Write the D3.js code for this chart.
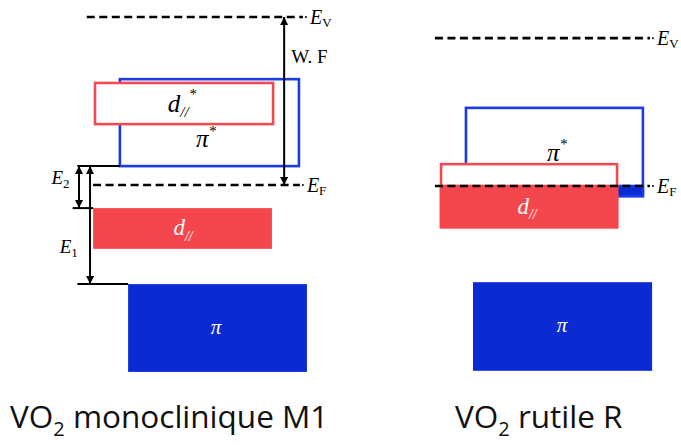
<!DOCTYPE html>
<html><head><meta charset="utf-8">
<script src="https://cdn.jsdelivr.net/npm/d3@7"></script>
<style>body{margin:0;background:#fff}svg{display:block}</style>
</head><body><svg id="c" width="681" height="445"></svg>
<script>
// ---------- DATA (energies in arbitrary units, E_F = 0; widths in DOS units 0..10) ----------
const panelTitles = [["VO", "2", " monoclinique M1"], ["VO", "2", " rutile R"]];

// Monoclinic M1
const levelsM1 = [4.0, 0.0];              // E_V, E_F
const levelFromM1 = [0.5, 0.77];
const levelToM1 = [9.7, 9.57];
const bandNamesM1 = ["pi*", "d*", "d", "pi"];
const bandTopM1 = [2.52, 2.43, -0.55, -2.36];
const bandBottomM1 = [0.45, 1.45, -1.52, -4.45];
const bandFromM1 = [1.91, 0.85, 0.77, 2.26];
const bandToM1 = [9.53, 8.43, 8.38, 9.87];
const gapNames = ["E2", "E1"];
const gapTop = [0.45, 0.45];
const gapBottom = [-0.55, -2.36];

// Rutile R
const levelsR = [3.52, 0.0];
const levelFromR = [0.21, 0.21];
const levelToR = [9.36, 9.36];
const bandNamesR = ["pi*", "d", "pi"];
const bandTopR = [1.86, 0.52, -2.29];
const bandBottomR = [-0.24, -0.98, -4.40];
const bandFromR = [1.53, 0.47, 1.83];
const bandToR = [9.06, 7.96, 9.45];

// ---------- DRAWING ----------
const svg = d3.select("#c");
const BLUE = "#0a2ad2", BLUE_S = "#1a3ae6", RED = "#f4474d", RED_S = "#f04a55";
const serif = "'Liberation Serif','DejaVu Serif',serif";

const xM1 = d3.scaleLinear().domain([0, 10]).range([75, 310]);
const yM1 = d3.scaleLinear().domain([0, 4]).range([185, 17]);
const xR = d3.scaleLinear().domain([0, 10]).range([430, 665]);
const yR = d3.scaleLinear().domain([0, 4]).range([186, 18]);

const defs = svg.append("defs");
defs.append("marker").attr("id", "ah").attr("viewBox", "0 0 10 10")
  .attr("refX", 10).attr("refY", 5).attr("markerWidth", 4.5).attr("markerHeight", 4)
  .attr("markerUnits", "strokeWidth").attr("orient", "auto-start-reverse")
  .append("path").attr("d", "M0,0 L10,5 L0,10 Z").attr("fill", "#000");

function rect(g, x0, x1, y0, y1, fill, stroke, sw) {
  g.append("rect").attr("x", x0).attr("y", y0).attr("width", x1 - x0).attr("height", y1 - y0)
    .attr("fill", fill).attr("stroke", stroke || "none").attr("stroke-width", sw || 0);
}
function dashed(g, x0, x1, y) {
  g.append("line").attr("x1", x0).attr("x2", x1).attr("y1", y).attr("y2", y)
    .attr("stroke", "#000").attr("stroke-width", 2.6).attr("stroke-dasharray", "8,4.5");
}
function levelLabel(g, x, y, sub) {
  g.append("circle").attr("cx", x + 3).attr("cy", y).attr("r", 1).attr("fill", "#000");
  const t = g.append("text").attr("x", x + 7).attr("y", y + 7).attr("font-family", serif)
    .attr("font-style", "italic").attr("font-size", 20).attr("fill", "#000");
  t.append("tspan").text("E");
  t.append("tspan").attr("font-size", 13).attr("font-style", "normal").attr("dy", 3).text(sub);
}
function hline(g, x0, x1, y) {
  g.append("line").attr("x1", x0).attr("x2", x1).attr("y1", y).attr("y2", y)
    .attr("stroke", "#000").attr("stroke-width", 2);
}
function arrow(g, x, y0, y1) {
  g.append("line").attr("x1", x).attr("x2", x).attr("y1", y0).attr("y2", y1)
    .attr("stroke", "#000").attr("stroke-width", 2)
    .attr("marker-start", "url(#ah)").attr("marker-end", "url(#ah)");
}
function bandLabel(g, x, y, main, sub, sup, color, size) {
  const t = g.append("text").attr("x", x).attr("y", y).attr("text-anchor", "middle")
    .attr("font-family", serif).attr("font-style", "italic").attr("font-size", size).attr("fill", color);
  t.append("tspan").text(main);
  if (sub) t.append("tspan").attr("font-size", size * 0.6).attr("dy", size * 0.22).text(sub);
  if (sup) t.append("tspan").attr("font-size", size * 0.6).attr("dy", sub ? -size * 0.72 : -size * 0.45).text(sup);
}

// ----- Monoclinic panel -----
const gL = svg.append("g");
const iL = n => bandNamesM1.indexOf(n);
let k = iL("pi*");
rect(gL, xM1(bandFromM1[k]), xM1(bandToM1[k]), yM1(bandTopM1[k]), yM1(bandBottomM1[k]), "#fff", BLUE_S, 2.6);
k = iL("d*");
rect(gL, xM1(bandFromM1[k]), xM1(bandToM1[k]), yM1(bandTopM1[k]), yM1(bandBottomM1[k]), "#fff", RED_S, 2.6);
k = iL("d");
rect(gL, xM1(bandFromM1[k]), xM1(bandToM1[k]), yM1(bandTopM1[k]), yM1(bandBottomM1[k]), RED);
k = iL("pi");
rect(gL, xM1(bandFromM1[k]), xM1(bandToM1[k]), yM1(bandTopM1[k]), yM1(bandBottomM1[k]), BLUE);

levelsM1.forEach((e, i) => {
  dashed(gL, xM1(levelFromM1[i]), xM1(levelToM1[i]), yM1(e));
  levelLabel(gL, xM1(levelToM1[i]), yM1(e), i === 0 ? "V" : "F");
});

hline(gL, xM1(0.1), xM1(bandFromM1[iL("pi*")]), yM1(bandBottomM1[iL("pi*")]));
hline(gL, xM1(-0.1), xM1(bandFromM1[iL("d")]), yM1(bandTopM1[iL("d")]));
hline(gL, xM1(0.1), xM1(bandFromM1[iL("pi")]), yM1(bandTopM1[iL("pi")]));

arrow(gL, xM1(8.9), yM1(levelsM1[0]), yM1(levelsM1[1]));
arrow(gL, xM1(0.17), yM1(gapTop[0]), yM1(gapBottom[0]));
arrow(gL, xM1(0.64), yM1(gapTop[1]), yM1(gapBottom[1]));

gL.append("text").attr("x", xM1(9.2)).attr("y", yM1(2.9)).attr("font-family", serif)
  .attr("font-size", 19).text("W. F");
[[gapNames[0], -1.0, 0.2], [gapNames[1], -0.65, -1.45]].forEach(([nm, xx, ee]) => {
  const t = gL.append("text").attr("x", xM1(xx)).attr("y", yM1(ee) + 7).attr("font-family", serif)
    .attr("font-style", "italic").attr("font-size", 19);
  t.append("tspan").text("E");
  t.append("tspan").attr("font-size", 13).attr("font-style", "normal").attr("dy", 4).text(nm.slice(1));
});

bandLabel(gL, 182, yM1((bandTopM1[iL("d*")] + bandBottomM1[iL("d*")]) / 2) + 8, "d", "//", "*", "#000", 25);
bandLabel(gL, 206, yM1(1.05) + 6, "π", null, "*", "#000", 25);
bandLabel(gL, 183, yM1((bandTopM1[iL("d")] + bandBottomM1[iL("d")]) / 2) + 7, "d", "//", null, "#fff", 23);
bandLabel(gL, 216, yM1((bandTopM1[iL("pi")] + bandBottomM1[iL("pi")]) / 2) + 6, "π", null, null, "#fff", 21);

// ----- Rutile panel -----
const gR = svg.append("g");
const iR = n => bandNamesR.indexOf(n);
k = iR("pi*");
rect(gR, xR(bandFromR[k]), xR(bandToR[k]), yR(bandTopR[k]), yR(bandBottomR[k]), "#fff", BLUE_S, 2.6);
rect(gR, xR(bandFromR[k]), xR(bandToR[k]), yR(0), yR(bandBottomR[k]), BLUE, BLUE_S, 2.6);
k = iR("d");
rect(gR, xR(bandFromR[k]), xR(bandToR[k]), yR(bandTopR[k]), yR(bandBottomR[k]), "#fff", RED_S, 2.6);
rect(gR, xR(bandFromR[k]), xR(bandToR[k]), yR(0), yR(bandBottomR[k]), RED, RED, 2.6);
k = iR("pi");
rect(gR, xR(bandFromR[k]), xR(bandToR[k]), yR(bandTopR[k]), yR(bandBottomR[k]), BLUE);

levelsR.forEach((e, i) => {
  dashed(gR, xR(levelFromR[i]), xR(levelToR[i]), yR(e));
  levelLabel(gR, xR(levelToR[i]), yR(e), i === 0 ? "V" : "F");
});

bandLabel(gR, 557, yR(0.75) + 6, "π", null, "*", "#000", 25);
bandLabel(gR, 527, yR((0 + bandBottomR[iR("d")]) / 2) + 7, "d", "//", null, "#fff", 23);
bandLabel(gR, 562, yR((bandTopR[iR("pi")] + bandBottomR[iR("pi")]) / 2) + 6, "π", null, null, "#fff", 21);

// ----- Titles -----
const titleX = [10, 455];
panelTitles.forEach((p, i) => {
  const t = svg.append("text").attr("x", titleX[i]).attr("y", 428)
    .attr("font-family", "'Open Sans',sans-serif").attr("font-size", 31.5).attr("fill", "#111");
  t.append("tspan").text(p[0]);
  t.append("tspan").attr("font-size", 20).attr("dy", 8).text(p[1]);
  t.append("tspan").attr("dy", -8).text(p[2]);
});
</script></body></html>
